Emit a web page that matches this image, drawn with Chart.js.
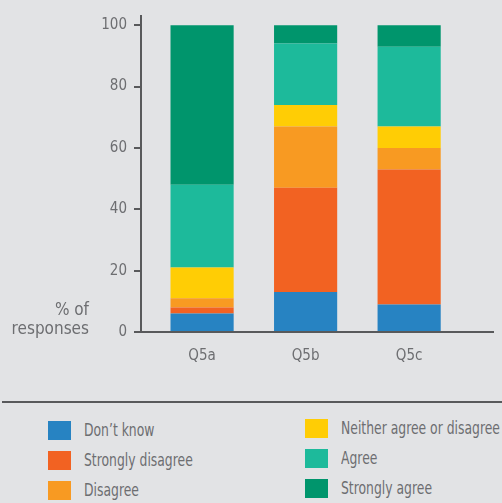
<!DOCTYPE html>
<html>
<head>
<meta charset="UTF-8" />
<script src="https://cdn.jsdelivr.net/npm/chart.js"></script>
<style>
  html, body { margin: 0; padding: 0; background: #e2e3e5; }
  body { width: 502px; height: 503px; position: relative; overflow: hidden;
         font-family: 'DejaVu Sans Condensed', 'DejaVu Sans', sans-serif; font-stretch: condensed; color: #6d6e71; }
  #chart { position: absolute; left: 0; top: 0; }
  .rule { position: absolute; left: 2px; top: 401px; width: 500px; height: 2px; background: #58595b; }
  .legend-item { position: absolute; height: 19px; font-size: 17px; line-height: 19px; white-space: nowrap; }
  .legend-item span.box { position: absolute; left: 0; top: 0; width: 23px; height: 19px; }
  .legend-item span.txt { position: absolute; left: 36px; top: 0; transform: scaleX(0.81); transform-origin: left center; }
</style>
</head>
<body>
<canvas id="chart" width="502" height="400"></canvas>
<div class="rule"></div>
<div id="legend"></div>

<script>
// data (percent of responses)
const questions = ["Q5a", "Q5b", "Q5c"];
const answers = ["Don\u2019t know", "Strongly disagree", "Disagree", "Neither agree or disagree", "Agree", "Strongly agree"];
const colors = ["#2783c2", "#f26222", "#f89a22", "#ffcd05", "#1dba9b", "#00956c"];
const dontKnow = [6, 13, 9];
const stronglyDisagree = [2, 34, 44];
const disagree = [3, 20, 7];
const neither = [10, 7, 7];
const agree = [27, 20, 26];
const stronglyAgree = [52, 6, 7];
const yTicks = [0, 20, 40, 60, 80, 100];

const series = [dontKnow, stronglyDisagree, disagree, neither, agree, stronglyAgree];
const grey = "#6d6e71";
const axisColor = "#58595b";
const family = "'DejaVu Sans Condensed', 'DejaVu Sans', sans-serif";
const font = { family: family, size: 15 };

// "% of responses" label left of the y axis
const yLabel = {
  id: "yLabel",
  afterDraw(chart) {
    const { ctx, scales } = chart;
    const y0 = scales.y.getPixelForValue(0);
    ctx.save();
    ctx.font = "17px " + family;
    ctx.fillStyle = grey;
    ctx.textAlign = "right";
    ctx.textBaseline = "alphabetic";
    ctx.fillText("% of", scales.y.left + 89, y0 - 17);
    ctx.fillText("responses", scales.y.left + 89, y0 + 2);
    ctx.restore();
  }
};

new Chart(document.getElementById("chart"), {
  type: "bar",
  data: {
    datasets: series.map((vals, i) => ({
      label: answers[i],
      data: vals.map((v, j) => ({ x: j, y: v })),
      backgroundColor: colors[i],
      borderWidth: 0,
      barPercentage: 0.61,
      categoryPercentage: 1
    }))
  },
  options: {
    responsive: false,
    animation: false,
    layout: { padding: { top: 14, right: 9, left: 0, bottom: 0 } },
    plugins: { legend: { display: false }, tooltip: { enabled: false } },
    scales: {
      x: {
        type: "linear",
        offset: false,
        stacked: true,
        min: -0.59,
        max: 2.81,
        afterFit: (s) => { s.height = 68; },
        grid: { display: false, drawTicks: false, offset: false },
        border: { display: true, color: axisColor, width: 2 },
        ticks: {
          stepSize: 1,
          includeBounds: false,
          padding: 15,
          color: grey,
          font: font,
          callback: (v) => questions[v] ?? ""
        }
      },
      y: {
        stacked: true,
        min: 0,
        max: 103,
        afterFit: (s) => { s.width = 141; },
        afterBuildTicks: (s) => { s.ticks = yTicks.map((v) => ({ value: v })); },
        grid: { drawOnChartArea: false, drawTicks: true, tickLength: 7, color: axisColor, lineWidth: 2 },
        border: { display: true, color: axisColor, width: 2 },
        ticks: { padding: 7, color: grey, font: font }
      }
    }
  },
  plugins: [yLabel]
});

// legend: two columns of three, filled column by column
const legend = document.getElementById("legend");
answers.forEach((name, i) => {
  const col = Math.floor(i / 3), row = i % 3;
  const item = document.createElement("div");
  item.className = "legend-item";
  item.style.left = (col ? 305 : 48) + "px";
  item.style.top = (421 + row * 30 - col * 2) + "px";
  item.innerHTML = '<span class="box" style="background:' + colors[i] + '"></span><span class="txt">' + name + "</span>";
  legend.appendChild(item);
});
</script>
</body>
</html>
